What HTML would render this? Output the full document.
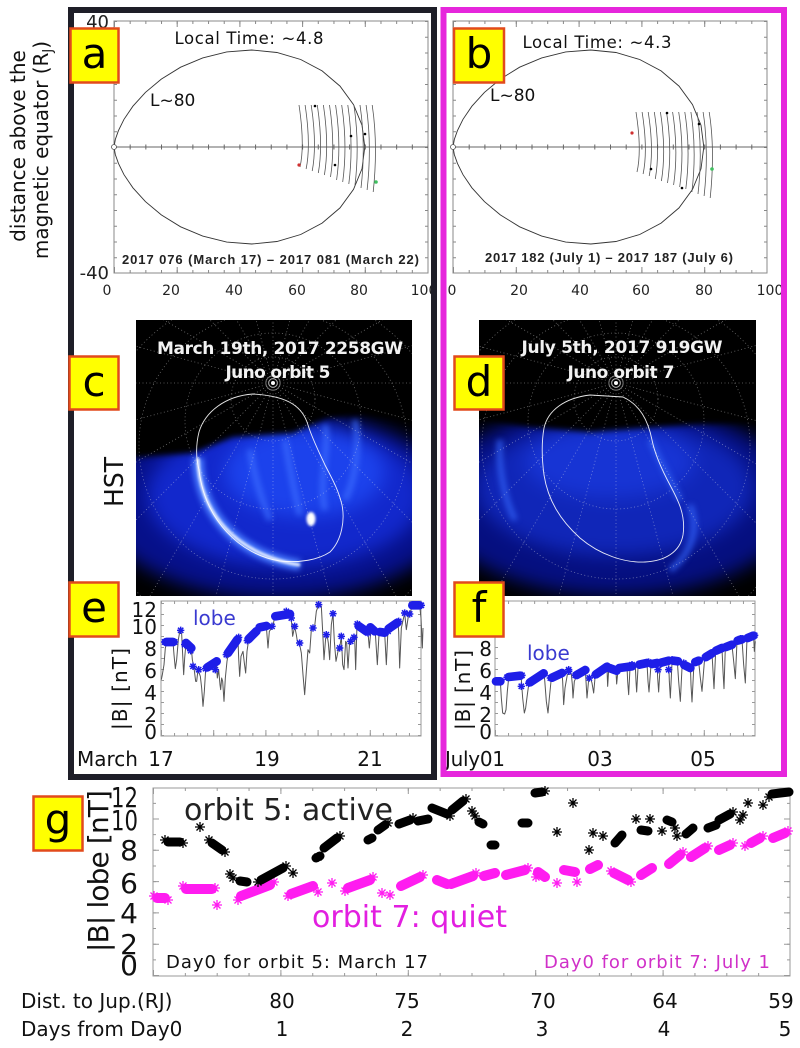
<!DOCTYPE html>
<html><head><meta charset="utf-8">
<style>
html,body{margin:0;padding:0;background:#fff;}
svg{display:block;}
text{font-family:"DejaVu Sans","Liberation Sans",sans-serif;}
.lib{font-family:"Liberation Sans","DejaVu Sans",sans-serif;}
</style></head><body>
<svg width="800" height="1048" viewBox="0 0 800 1048" xmlns="http://www.w3.org/2000/svg">
<defs>
 <filter id="b1" x="-50%" y="-50%" width="200%" height="200%" color-interpolation-filters="sRGB"><feGaussianBlur stdDeviation="1.2"/></filter>
 <filter id="b3" x="-30%" y="-30%" width="160%" height="160%" color-interpolation-filters="sRGB"><feGaussianBlur stdDeviation="3"/></filter>
 <filter id="b8" x="-30%" y="-30%" width="160%" height="160%" color-interpolation-filters="sRGB"><feGaussianBlur stdDeviation="9"/></filter>
 <clipPath id="cc"><rect x="136" y="320" width="276" height="276"/></clipPath>
 <clipPath id="cd"><rect x="479" y="320" width="277" height="276"/></clipPath>
 <path id="se" d="M-11,0H11M0,-11V11M-8,-8L8,8M-8,8L8,-8" stroke="#1e1ee8" stroke-width="4.5" fill="none"/>
 <path id="sk" d="M-5,0H5M0,-5V5M-3.5,-3.5L3.5,3.5M-3.5,3.5L3.5,-3.5" stroke="#000" stroke-width="1.3" fill="none"/>
 <path id="sm" d="M-5,0H5M0,-5V5M-3.5,-3.5L3.5,3.5M-3.5,3.5L3.5,-3.5" stroke="#ff1cf0" stroke-width="1.3" fill="none"/>
 <g id="grid" fill="none" stroke="#e8e8e8" stroke-opacity="0.45" stroke-width="0.8" stroke-dasharray="1 2.5">
  <path d="M0,0l400,0M0,0l386.4,103.5M0,0l346.4,200M0,0l282.8,282.8M0,0l200,346.4M0,0l103.5,386.4M0,0l0,400M0,0l-103.5,386.4M0,0l-200,346.4M0,0l-282.8,282.8M0,0l-346.4,200M0,0l-386.4,103.5M0,0l-400,0M0,0l-386.4,-103.5M0,0l-346.4,-200M0,0l-282.8,-282.8M0,0l-200,-346.4M0,0l-103.5,-386.4M0,0l0,-400M0,0l103.5,-386.4M0,0l200,-346.4M0,0l282.8,-282.8M0,0l346.4,-200M0,0l386.4,-103.5"/>
  <circle cx="0" cy="16" r="42"/>
  <circle cx="0" cy="38" r="88"/>
  <circle cx="0" cy="62" r="134"/>
  <circle cx="0" cy="88" r="182"/>
  <circle cx="0" cy="115" r="232"/>
  <circle cx="0" cy="140" r="285"/>
 </g>
 <g id="pole">
  <circle cx="0" cy="0" r="2" fill="#fff"/>
  <circle cx="0" cy="0" r="4.5" fill="none" stroke="#fff" stroke-opacity=".7" stroke-width=".7"/>
  <circle cx="0" cy="0" r="7" fill="none" stroke="#fff" stroke-opacity=".5" stroke-width=".7"/>
 </g>
 <polyline id="fl" fill="none" stroke="#333" stroke-width="0.9" points="114,147 115.3,139.5 118.4,130.7 124,119.3 132.9,106.2 145.4,92.4 161.3,79.1 180.6,67.2 202.7,57.9 226.7,51.9 251.8,50 276.9,52.5 300.7,59.5 322.1,70.9 340,86.1 353.5,104.6 362,125.2 364.8,147 362,168.8 353.5,189.4 340,207.9 322.1,223.1 300.7,234.5 276.9,241.5 251.8,244 226.7,242.1 202.7,236.1 180.6,226.8 161.3,214.9 145.4,201.6 132.9,187.8 124,174.7 118.4,163.3 115.3,154.5 114,147"/>
</defs>
<rect width="800" height="1048" fill="#fff"/>

<!-- ================= Panel a ================= -->
<g stroke="#888" fill="none">
 <rect x="114" y="21" width="314" height="252" stroke-width="1"/>
 <line x1="114" y1="271.5" x2="428" y2="271.5" stroke-width="3" stroke-dasharray="1 14.675"/>
 <line x1="114" y1="22.5" x2="428" y2="22.5" stroke-width="3" stroke-dasharray="1 14.675"/>
 <line x1="114" y1="270" x2="428" y2="270" stroke-width="6" stroke-dasharray="1 61.7"/>
 <line x1="114" y1="24" x2="428" y2="24" stroke-width="6" stroke-dasharray="1 61.7"/>
 <line x1="115.5" y1="21" x2="115.5" y2="273" stroke-width="3" stroke-dasharray="1 14.75"/>
 <line x1="426.5" y1="21" x2="426.5" y2="273" stroke-width="3" stroke-dasharray="1 14.75"/>
</g>
<line x1="114" y1="147" x2="428" y2="147" stroke="#666" stroke-width="1"/>
<line x1="114" y1="147" x2="428" y2="147" stroke="#666" stroke-width="5" stroke-dasharray="1 14.675"/>
<use href="#fl"/>
<circle cx="114" cy="147" r="2.5" fill="#fff" stroke="#555" stroke-width=".8"/>
<g fill="none" stroke="#555" stroke-width="0.8">
 <path d="M299,105 Q305,145 300,167"/>
 <path d="M305.1,105 Q311.1,145 306.1,169"/>
 <path d="M311.2,105 Q317.2,145 312.2,171"/>
 <path d="M317.3,105 Q323.3,145 318.3,173"/>
 <path d="M323.4,105 Q329.4,145 324.4,175"/>
 <path d="M329.5,105 Q335.5,145 330.5,177"/>
 <path d="M335.6,105 Q341.6,145 336.6,180"/>
 <path d="M341.7,105 Q347.7,145 342.7,182"/>
 <path d="M347.8,105 Q353.8,145 348.8,184"/>
 <path d="M353.9,105 Q359.9,145 354.9,186"/>
 <path d="M360,105 Q366,145 361,188"/>
 <path d="M366.1,105 Q372.1,145 367.1,190"/>
 <path d="M372.2,105 Q378.2,145 373.2,192"/>
</g>
<circle cx="299" cy="165" r="1.6" fill="#d03030"/>
<circle cx="376" cy="182" r="1.8" fill="#40c060"/>
<g fill="#000"><circle cx="315" cy="106" r="1.3"/><circle cx="351" cy="136" r="1.3"/><circle cx="365" cy="134" r="1.3"/><circle cx="335" cy="165" r="1.3"/></g>

<text x="249" y="44" font-size="16.5" text-anchor="middle" textLength="149" fill="#111">Local Time: ~4.8</text>
<text x="150" y="106" font-size="17" fill="#111">L~80</text>
<text class="lib" x="122" y="264" font-size="13" font-weight="bold" textLength="297" fill="#222">2017 076 (March 17)  – 2017 081 (March 22)</text>
<g class="lib" font-size="18" text-anchor="end" fill="#222">
 <text x="109" y="28">40</text>
 <text x="109" y="279">-40</text>
</g>
<g class="lib" font-size="14" text-anchor="middle" fill="#222">
 <text x="107" y="295">0</text><text x="171" y="295">20</text><text x="234" y="295">40</text><text x="297" y="295">60</text><text x="359" y="295">80</text><text x="424" y="295">100</text>
</g>
<text transform="translate(25,146) rotate(-90)" font-size="20" text-anchor="middle" fill="#111">distance above the</text>
<text transform="translate(48,150) rotate(-90)" font-size="20" text-anchor="middle" fill="#111">magnetic equator (R<tspan font-size="13" dy="4">J</tspan><tspan dy="-4">)</tspan></text>

<!-- ================= Panel b ================= -->
<g stroke="#888" fill="none">
 <rect x="453" y="21" width="314" height="252" stroke-width="1"/>
 <line x1="453" y1="271.5" x2="767" y2="271.5" stroke-width="3" stroke-dasharray="1 14.7"/>
 <line x1="453" y1="22.5" x2="767" y2="22.5" stroke-width="3" stroke-dasharray="1 14.7"/>
 <line x1="453" y1="270" x2="767" y2="270" stroke-width="6" stroke-dasharray="1 61.8"/>
 <line x1="453" y1="24" x2="767" y2="24" stroke-width="6" stroke-dasharray="1 61.8"/>
 <line x1="454.5" y1="21" x2="454.5" y2="273" stroke-width="3" stroke-dasharray="1 14.75"/>
 <line x1="765.5" y1="21" x2="765.5" y2="273" stroke-width="3" stroke-dasharray="1 14.75"/>
</g>
<line x1="453" y1="147" x2="767" y2="147" stroke="#666" stroke-width="1"/>
<line x1="453" y1="147" x2="767" y2="147" stroke="#666" stroke-width="5" stroke-dasharray="1 14.7"/>
<use href="#fl" transform="translate(339,0)"/>
<circle cx="453" cy="147" r="2.5" fill="#fff" stroke="#555" stroke-width=".8"/>
<g fill="none" stroke="#555" stroke-width="0.8">
 <path d="M636,112 Q642,150 637,172"/>
 <path d="M642.1,112 Q648.1,150 643.1,174"/>
 <path d="M648.2,112 Q654.2,150 649.2,176"/>
 <path d="M654.3,112 Q660.3,150 655.3,179"/>
 <path d="M660.4,112 Q666.4,150 661.4,181"/>
 <path d="M666.5,112 Q672.5,150 667.5,183"/>
 <path d="M672.6,112 Q678.6,150 673.6,185"/>
 <path d="M678.7,112 Q684.7,150 679.7,187"/>
 <path d="M684.8,112 Q690.8,150 685.8,189"/>
 <path d="M690.9,112 Q696.9,150 691.9,192"/>
 <path d="M697,112 Q703,150 698,194"/>
 <path d="M703.1,112 Q709.1,150 704.1,196"/>
 <path d="M709.2,112 Q715.2,150 710.2,198"/>
</g>
<circle cx="632" cy="133" r="1.6" fill="#d03030"/>
<circle cx="712" cy="169" r="1.8" fill="#40c060"/>
<g fill="#000"><circle cx="667" cy="113" r="1.3"/><circle cx="699" cy="124" r="1.3"/><circle cx="651" cy="169" r="1.3"/><circle cx="682" cy="188" r="1.3"/></g>
<text x="597" y="48" font-size="16.5" text-anchor="middle" textLength="149" fill="#111">Local Time: ~4.3</text>
<text x="490" y="101" font-size="17" fill="#111">L~80</text>
<text class="lib" x="485" y="262" font-size="13" font-weight="bold" textLength="248" fill="#222">2017 182 (July 1) – 2017 187 (July 6)</text>
<g class="lib" font-size="14" text-anchor="middle" fill="#222">
 <text x="452" y="295">0</text><text x="519" y="295">20</text><text x="580" y="295">40</text><text x="641" y="295">60</text><text x="704" y="295">80</text><text x="770" y="295">100</text>
</g>

<!-- ================= HST c ================= -->
<g clip-path="url(#cc)">
 <rect x="136" y="320" width="276" height="276" fill="#000"/>
 <g filter="url(#b8)">
  <ellipse cx="278" cy="505" rx="178" ry="94" fill="#06108a"/>
  <ellipse cx="285" cy="495" rx="138" ry="72" fill="#1228cc"/>
  <ellipse cx="305" cy="472" rx="80" ry="45" fill="#1c42ec"/>
 </g>
 <path d="M125,310 H425 V423 L360,414 L327,418 L293,433 L233,437 L193,453 L125,458 Z" fill="#000" filter="url(#b3)"/>
 <g fill="none" filter="url(#b3)" stroke="#3c6cff" stroke-width="6" stroke-opacity=".75">
  <path d="M325,425 C330,450 318,480 325,510"/>
  <path d="M285,440 C290,470 295,495 300,515"/>
  <path d="M250,450 C255,480 262,500 270,520"/>
  <path d="M355,420 C360,450 355,480 345,500"/>
 </g>
 <path d="M198,458 C198,510 235,555 300,565" stroke="#4a7cff" stroke-width="11" fill="none" filter="url(#b3)"/>
 <path d="M198,458 C198,510 235,555 300,565" stroke="#eef4ff" stroke-width="3" fill="none" filter="url(#b1)"/>
 <ellipse cx="311" cy="519" rx="4.5" ry="7" fill="#fff" filter="url(#b1)"/>
 <use href="#grid" transform="translate(273,383)"/>
 <use href="#pole" transform="translate(273,383)"/>
 <path d="M253,394 C225,396 205,412 199,432 C195,448 197,462 199,470 C205,520 240,555 280,561 C300,563 318,560 330,552 C342,540 345,520 342,505 C338,488 330,475 325,465 C318,450 312,438 308,425 C303,408 290,396 253,394 Z" fill="none" stroke="#fff" stroke-opacity=".9" stroke-width="0.9"/>
 <text x="280" y="354" font-size="17" font-weight="bold" text-anchor="middle" textLength="246" fill="#f2f2f2">March 19th, 2017 2258GW</text>
 <text x="278" y="378" font-size="17" font-weight="bold" text-anchor="middle" textLength="105" fill="#f2f2f2">Juno orbit 5</text>
</g>
<text transform="translate(123,482) rotate(-90)" font-size="26" text-anchor="middle" textLength="50" lengthAdjust="spacingAndGlyphs" fill="#111">HST</text>

<!-- ================= HST d ================= -->
<g clip-path="url(#cd)">
 <rect x="479" y="320" width="277" height="276" fill="#000"/>
 <g filter="url(#b8)">
  <ellipse cx="615" cy="500" rx="182" ry="96" fill="#050f80"/>
  <ellipse cx="615" cy="488" rx="138" ry="68" fill="#1026b8"/>
  <ellipse cx="610" cy="462" rx="85" ry="36" fill="#1734d4"/>
 </g>
 <path d="M470,310 H765 V423 L700,424 L643,428 L590,432 L530,427 L470,418 Z" fill="#000" filter="url(#b3)"/>
 <g fill="none" filter="url(#b3)" stroke="#2f5cf0" stroke-width="6" stroke-opacity=".8">
  <path d="M500,440 C498,470 505,500 515,520"/>
  <path d="M690,505 C700,530 690,555 670,570"/>
  <path d="M650,440 C660,460 670,480 680,500"/>
 </g>
 <use href="#grid" transform="translate(616,383)"/>
 <use href="#pole" transform="translate(616,383)"/>
 <path d="M590,395 C565,398 548,410 544,428 C541,445 542,460 544,475 C548,500 560,520 580,538 C600,555 625,563 645,562 C665,561 680,552 683,535 C686,515 678,500 670,485 C662,470 655,455 652,440 C648,420 640,405 623,397 Z" fill="none" stroke="#fff" stroke-opacity=".9" stroke-width="0.9"/>
 <text x="622" y="353" font-size="17" font-weight="bold" text-anchor="middle" textLength="201" fill="#f2f2f2">July 5th, 2017 919GW</text>
 <text x="621" y="378" font-size="17" font-weight="bold" text-anchor="middle" textLength="107" fill="#f2f2f2">Juno orbit 7</text>
</g>

<!-- ================= Panel e ================= -->
<g stroke="#999" fill="none">
 <rect x="161" y="601" width="260" height="135" stroke-width="1"/>
 <line x1="162.5" y1="736" x2="162.5" y2="601" stroke-width="3" stroke-dasharray="1 10"/>
 <line x1="419.5" y1="736" x2="419.5" y2="601" stroke-width="3" stroke-dasharray="1 10"/>
 <line x1="161" y1="734.5" x2="421" y2="734.5" stroke-width="3" stroke-dasharray="1 12.05"/>
 <line x1="161" y1="733" x2="421" y2="733" stroke-width="6" stroke-dasharray="1 51.2"/>
 <line x1="161" y1="602.5" x2="421" y2="602.5" stroke-width="3" stroke-dasharray="1 12.05"/>
</g>
<g transform="translate(158,598) scale(0.33333)">
 <polyline fill="none" stroke="#555" stroke-width="3" stroke-linejoin="round" points="10,245 13,230 18,200 22,150 27,132 45,132 48,170 52,212 56,185 61,125 66,97 71,108 74,170 77,230 80,180 84,135 100,150 103,185 108,210 113,250 116,250 120,215 127,235 131,270 135,325 139,280 143,215 175,200 178,240 182,215 186,260 188,275 191,240 194,250 198,310 202,240 207,190 212,160 240,125 242,180 245,235 249,175 255,160 259,195 263,225 267,160 272,125 297,100 300,110 305,90 325,85 330,150 334,100 345,85 350,55 395,50 400,65 404,115 410,85 415,110 418,130 424,135 430,165 435,230 440,290 445,220 450,155 455,165 460,95 470,85 475,40 482,20 490,25 494,100 498,185 503,120 507,110 511,135 515,185 520,80 525,47 529,130 534,190 540,160 545,150 550,115 554,200 558,215 563,130 566,135 570,210 575,130 590,118 593,215 597,80 625,100 630,105 634,150 640,80 652,105 658,200 663,110 680,105 685,200 690,95 720,75 722,100 725,210 730,90 740,45 745,95 752,48 757,45 762,22 785,22 789,60 793,150 795,90"/>
 <path fill="none" stroke="#1e1ee8" stroke-width="26" stroke-linecap="round" d="M25,132L45,132M84,135L100,150M148,208L176,190M210,165L238,125M272,123L295,100M305,88L325,84M352,55L396,48M602,84L625,100M637,88L650,100M666,102L680,104M692,92L718,74M763,22L784,22"/>
 <g>
  <use href="#se" x="68" y="97"/><use href="#se" x="105" y="205"/><use href="#se" x="122" y="215"/><use href="#se" x="342" y="85"/><use href="#se" x="410" y="85"/><use href="#se" x="425" y="135"/><use href="#se" x="465" y="90"/><use href="#se" x="482" y="20"/><use href="#se" x="505" y="110"/><use href="#se" x="525" y="47"/><use href="#se" x="545" y="150"/><use href="#se" x="550" y="115"/><use href="#se" x="578" y="130"/><use href="#se" x="588" y="118"/><use href="#se" x="740" y="45"/><use href="#se" x="755" y="48"/><use href="#se" x="630" y="105"/><use href="#se" x="172" y="215"/><use href="#se" x="385" y="40"/>
  <use href="#se" x="20" y="132"/><use href="#se" x="50" y="132"/><use href="#se" x="80" y="140"/><use href="#se" x="98" y="158"/><use href="#se" x="143" y="212"/><use href="#se" x="205" y="170"/><use href="#se" x="242" y="118"/><use href="#se" x="268" y="128"/><use href="#se" x="298" y="98"/><use href="#se" x="400" y="60"/><use href="#se" x="598" y="78"/><use href="#se" x="690" y="100"/><use href="#se" x="722" y="70"/><use href="#se" x="790" y="22"/>
 </g>
</g>
<text x="193" y="625" font-size="20" fill="#3a3ad0">lobe</text>
<g class="lib" font-size="20" text-anchor="end" fill="#111">
 <text x="157" y="617">12</text><text x="157" y="634">10</text><text x="157" y="656">8</text><text x="157" y="678">6</text><text x="157" y="700">4</text><text x="157" y="722">2</text><text x="157" y="739">0</text>
</g>
<text transform="translate(127,689) rotate(-90)" font-size="20" text-anchor="middle" textLength="82" fill="#111">|B| [nT]</text>
<text x="77" y="766" font-size="20" fill="#111">March</text>
<g font-size="20" text-anchor="middle" fill="#111"><text x="161" y="766">17</text><text x="267" y="766">19</text><text x="370" y="766">21</text></g>

<!-- ================= Panel f ================= -->
<g stroke="#999" fill="none">
 <rect x="495" y="601" width="260" height="135" stroke-width="1"/>
 <line x1="496.5" y1="736" x2="496.5" y2="601" stroke-width="3" stroke-dasharray="1 10"/>
 <line x1="753.5" y1="736" x2="753.5" y2="601" stroke-width="3" stroke-dasharray="1 10"/>
 <line x1="495" y1="734.5" x2="755" y2="734.5" stroke-width="3" stroke-dasharray="1 12.05"/>
 <line x1="495" y1="733" x2="755" y2="733" stroke-width="6" stroke-dasharray="1 51.2"/>
 <line x1="495" y1="602.5" x2="755" y2="602.5" stroke-width="3" stroke-dasharray="1 12.05"/>
</g>
<g transform="translate(492,598) scale(0.33333)">
 <polyline fill="none" stroke="#555" stroke-width="3" stroke-linejoin="round" points="8,250 25,250 28,300 32,345 38,348 42,335 46,280 50,240 85,235 88,245 92,300 97,345 101,330 106,290 110,260 155,225 158,245 163,310 168,345 172,300 178,240 210,225 212,250 215,320 219,270 226,230 238,228 241,260 243,300 247,250 255,232 280,215 282,250 285,300 290,245 295,238 300,255 305,285 309,240 345,208 346,240 347,265 350,215 372,220 373,240 374,258 378,215 405,205 407,250 410,290 414,210 430,205 432,250 434,282 438,210 465,195 468,250 471,282 477,200 495,195 497,240 500,282 504,210 530,190 532,250 535,300 540,195 556,190 560,250 565,310 570,210 595,200 597,260 600,312 606,195 620,190 625,240 630,280 638,180 660,165 663,220 666,272 671,160 690,152 693,220 696,272 700,148 720,142 725,190 730,242 735,130 750,125 755,200 760,255 765,122 785,115 787,160 790,130"/>
 <path fill="none" stroke="#1e1ee8" stroke-width="26" stroke-linecap="round" d="M12,250L25,250M50,237L85,233M114,253L155,226M180,239L210,225M254,231L280,216M312,229L345,206M352,210L374,218M382,210L420,205M442,200L465,195M480,198L495,195M507,194L530,188M544,188L558,190M577,201L595,210M610,192L620,188M642,177L660,166M672,158L690,150M702,147L720,140M737,128L750,124M767,120L784,113"/>
 <g>
  <use href="#se" x="88" y="265"/><use href="#se" x="230" y="220"/><use href="#se" x="292" y="240"/><use href="#se" x="498" y="215"/><use href="#se" x="530" y="215"/><use href="#se" x="575" y="195"/><use href="#se" x="230" y="215"/>
  <use href="#se" x="45" y="238"/><use href="#se" x="90" y="232"/><use href="#se" x="110" y="256"/><use href="#se" x="175" y="240"/><use href="#se" x="250" y="232"/><use href="#se" x="308" y="232"/><use href="#se" x="420" y="200"/><use href="#se" x="470" y="192"/><use href="#se" x="540" y="185"/><use href="#se" x="638" y="180"/><use href="#se" x="694" y="148"/><use href="#se" x="745" y="122"/><use href="#se" x="788" y="112"/>
 </g>
</g>
<text x="527" y="660" font-size="20" fill="#3a3ad0">lobe</text>
<g class="lib" font-size="20" text-anchor="end" fill="#111">
 <text x="492" y="656">8</text><text x="492" y="678">6</text><text x="492" y="700">4</text><text x="492" y="722">2</text><text x="492" y="739">0</text>
</g>
<text transform="translate(470,690) rotate(-90)" font-size="20" text-anchor="middle" textLength="80" fill="#111">|B| [nT]</text>
<text x="445" y="766" font-size="20" fill="#111" textLength="60">July01</text>
<g font-size="20" text-anchor="middle" fill="#111"><text x="600" y="766">03</text><text x="703" y="766">05</text></g>

<!-- ================= Frames ================= -->
<rect x="71" y="10" width="363" height="767" fill="none" stroke="#1e1e28" stroke-width="6"/>
<rect x="443.5" y="10" width="340.5" height="764" fill="none" stroke="#e626dc" stroke-width="6"/>

<!-- ================= Labels ================= -->
<g fill="#ffff00" stroke="#e24a1c" stroke-width="2.5">
 <rect x="70.5" y="28.5" width="48" height="54"/>
 <rect x="454" y="28.5" width="50" height="54"/>
 <rect x="69.5" y="356.5" width="49" height="53"/>
 <rect x="454.5" y="356.5" width="49" height="53"/>
 <rect x="69.5" y="582.5" width="49" height="54"/>
 <rect x="454.5" y="582.5" width="49" height="54"/>
 <rect x="33.5" y="796.5" width="49" height="54"/>
</g>
<g font-size="42" text-anchor="middle" fill="#000">
 <text x="94.5" y="68">a</text>
 <text x="479" y="68">b</text>
 <text x="94" y="396">c</text>
 <text x="479" y="396">d</text>
 <text x="94" y="622">e</text>
 <text x="479" y="622">f</text>
 <text x="58" y="834">g</text>
</g>

<!-- ================= Panel g ================= -->
<g stroke="#999" fill="none">
 <rect x="153" y="788" width="637" height="188" stroke-width="1"/>
 <line x1="154.5" y1="976" x2="154.5" y2="788" stroke-width="3" stroke-dasharray="1 14.65"/>
 <line x1="156" y1="976" x2="156" y2="788" stroke-width="6" stroke-dasharray="1 30.3"/>
 <line x1="788.5" y1="976" x2="788.5" y2="788" stroke-width="3" stroke-dasharray="1 14.65"/>
 <line x1="787" y1="976" x2="787" y2="788" stroke-width="6" stroke-dasharray="1 30.3"/>
 <line x1="153" y1="974.5" x2="790" y2="974.5" stroke-width="3" stroke-dasharray="1 30.85"/>
 <line x1="153" y1="973" x2="790" y2="973" stroke-width="6" stroke-dasharray="1 126.4"/>
 <line x1="153" y1="789.5" x2="790" y2="789.5" stroke-width="3" stroke-dasharray="1 30.85"/>
 <line x1="153" y1="791" x2="790" y2="791" stroke-width="6" stroke-dasharray="1 126.4"/>
</g>
<!-- magenta orbit 7 -->
<path fill="none" stroke="#ff1cf0" stroke-width="10" stroke-linecap="round" d="M157,898L165,898M186,889L212,889M241,896L270,885M291,894L313,886M348,888L370,880M401,886L420,877M437,880L447,884M451,884L473,876M484,876L495,873M506,875L525,870M538,872L545,877M564,870L575,872M590,869L598,865M614,873L628,880M641,875L652,868M669,864L680,855M691,857L705,848M719,850L730,845M751,843L760,838M773,838L785,833"/>
<g>
 <use href="#sm" x="217" y="905"/><use href="#sm" x="238" y="900"/><use href="#sm" x="318" y="892"/><use href="#sm" x="332" y="883"/><use href="#sm" x="382" y="893"/><use href="#sm" x="390" y="895"/><use href="#sm" x="557" y="883"/><use href="#sm" x="577" y="882"/><use href="#sm" x="745" y="846"/><use href="#sm" x="536" y="877"/>
 <use href="#sm" x="154" y="896"/><use href="#sm" x="168" y="900"/><use href="#sm" x="183" y="886"/><use href="#sm" x="215" y="888"/><use href="#sm" x="274" y="882"/><use href="#sm" x="288" y="896"/><use href="#sm" x="345" y="891"/><use href="#sm" x="373" y="877"/><use href="#sm" x="423" y="875"/><use href="#sm" x="476" y="873"/><use href="#sm" x="528" y="868"/><use href="#sm" x="611" y="871"/><use href="#sm" x="631" y="882"/><use href="#sm" x="683" y="852"/><use href="#sm" x="708" y="846"/><use href="#sm" x="733" y="843"/><use href="#sm" x="763" y="836"/><use href="#sm" x="788" y="831"/>
</g>
<!-- black orbit 5 -->
<path fill="none" stroke="#000" stroke-width="9" stroke-linecap="round" d="M168,842L180,842M212,843L222,850M240,881L247,882M261,880L283,868M316,858L320,856M324,848L337,838M368,840L372,838M378,830L385,825M399,824L410,820M418,821L428,819M432,808L447,814M452,810L463,801M479,822L483,824M491,845L495,845M522,823L528,823M535,793L542,792M615,843L622,835M641,830L648,831M667,820L672,822M686,834L693,828M708,828L716,825M719,820L730,814M772,794L789,792"/>
<g>
 <use href="#sk" x="200" y="827"/><use href="#sk" x="230" y="874"/><use href="#sk" x="293" y="873"/><use href="#sk" x="472" y="811"/><use href="#sk" x="475" y="816"/><use href="#sk" x="557" y="832"/><use href="#sk" x="573" y="803"/><use href="#sk" x="589" y="850"/><use href="#sk" x="593" y="833"/><use href="#sk" x="603" y="836"/><use href="#sk" x="636" y="819"/><use href="#sk" x="650" y="819"/><use href="#sk" x="662" y="831"/><use href="#sk" x="675" y="828"/><use href="#sk" x="677" y="836"/><use href="#sk" x="740" y="820"/><use href="#sk" x="743" y="815"/><use href="#sk" x="748" y="803"/><use href="#sk" x="763" y="805"/><use href="#sk" x="233" y="878"/><use href="#sk" x="318" y="857"/>
 <use href="#sk" x="165" y="840"/><use href="#sk" x="183" y="843"/><use href="#sk" x="209" y="840"/><use href="#sk" x="225" y="852"/><use href="#sk" x="258" y="882"/><use href="#sk" x="286" y="866"/><use href="#sk" x="340" y="836"/><use href="#sk" x="388" y="823"/><use href="#sk" x="413" y="818"/><use href="#sk" x="450" y="816"/><use href="#sk" x="466" y="799"/><use href="#sk" x="545" y="791"/><use href="#sk" x="733" y="812"/><use href="#sk" x="769" y="797"/>
</g>
<text x="184" y="820" font-size="30" textLength="209" fill="#222">orbit 5: active</text>
<text x="312" y="927" font-size="30" textLength="195" fill="#e21fe0">orbit 7: quiet</text>
<text x="166" y="968" font-size="18" textLength="262" fill="#111">Day0 for orbit 5: March 17</text>
<text x="770" y="968" font-size="18" text-anchor="end" textLength="226" fill="#d030c8">Day0 for orbit 7: July 1</text>
<g class="lib" font-size="28" text-anchor="end" fill="#111">
 <text x="138" y="807" textLength="27" lengthAdjust="spacingAndGlyphs">12</text>
 <text x="138" y="830" textLength="27" lengthAdjust="spacingAndGlyphs">10</text>
 <text x="138" y="860">8</text>
 <text x="138" y="893">6</text>
 <text x="138" y="923">4</text>
 <text x="138" y="954">2</text>
 <text x="138" y="975">0</text>
</g>
<text transform="translate(108,871) rotate(-90)" font-size="28" text-anchor="middle" textLength="162" fill="#111">|B| lobe [nT]</text>
<text x="21" y="1008" font-size="20" fill="#111">Dist. to Jup.(RJ)</text>
<text x="21" y="1036" font-size="20" fill="#111">Days from Day0</text>
<g font-size="20" text-anchor="middle" fill="#111">
 <text x="282" y="1008">80</text><text x="407" y="1008">75</text><text x="543" y="1008">70</text><text x="665" y="1008">64</text><text x="781" y="1008">59</text>
 <text x="282" y="1036">1</text><text x="407" y="1036">2</text><text x="542" y="1036">3</text><text x="664" y="1036">4</text><text x="785" y="1036">5</text>
</g>
</svg>
</body></html>
